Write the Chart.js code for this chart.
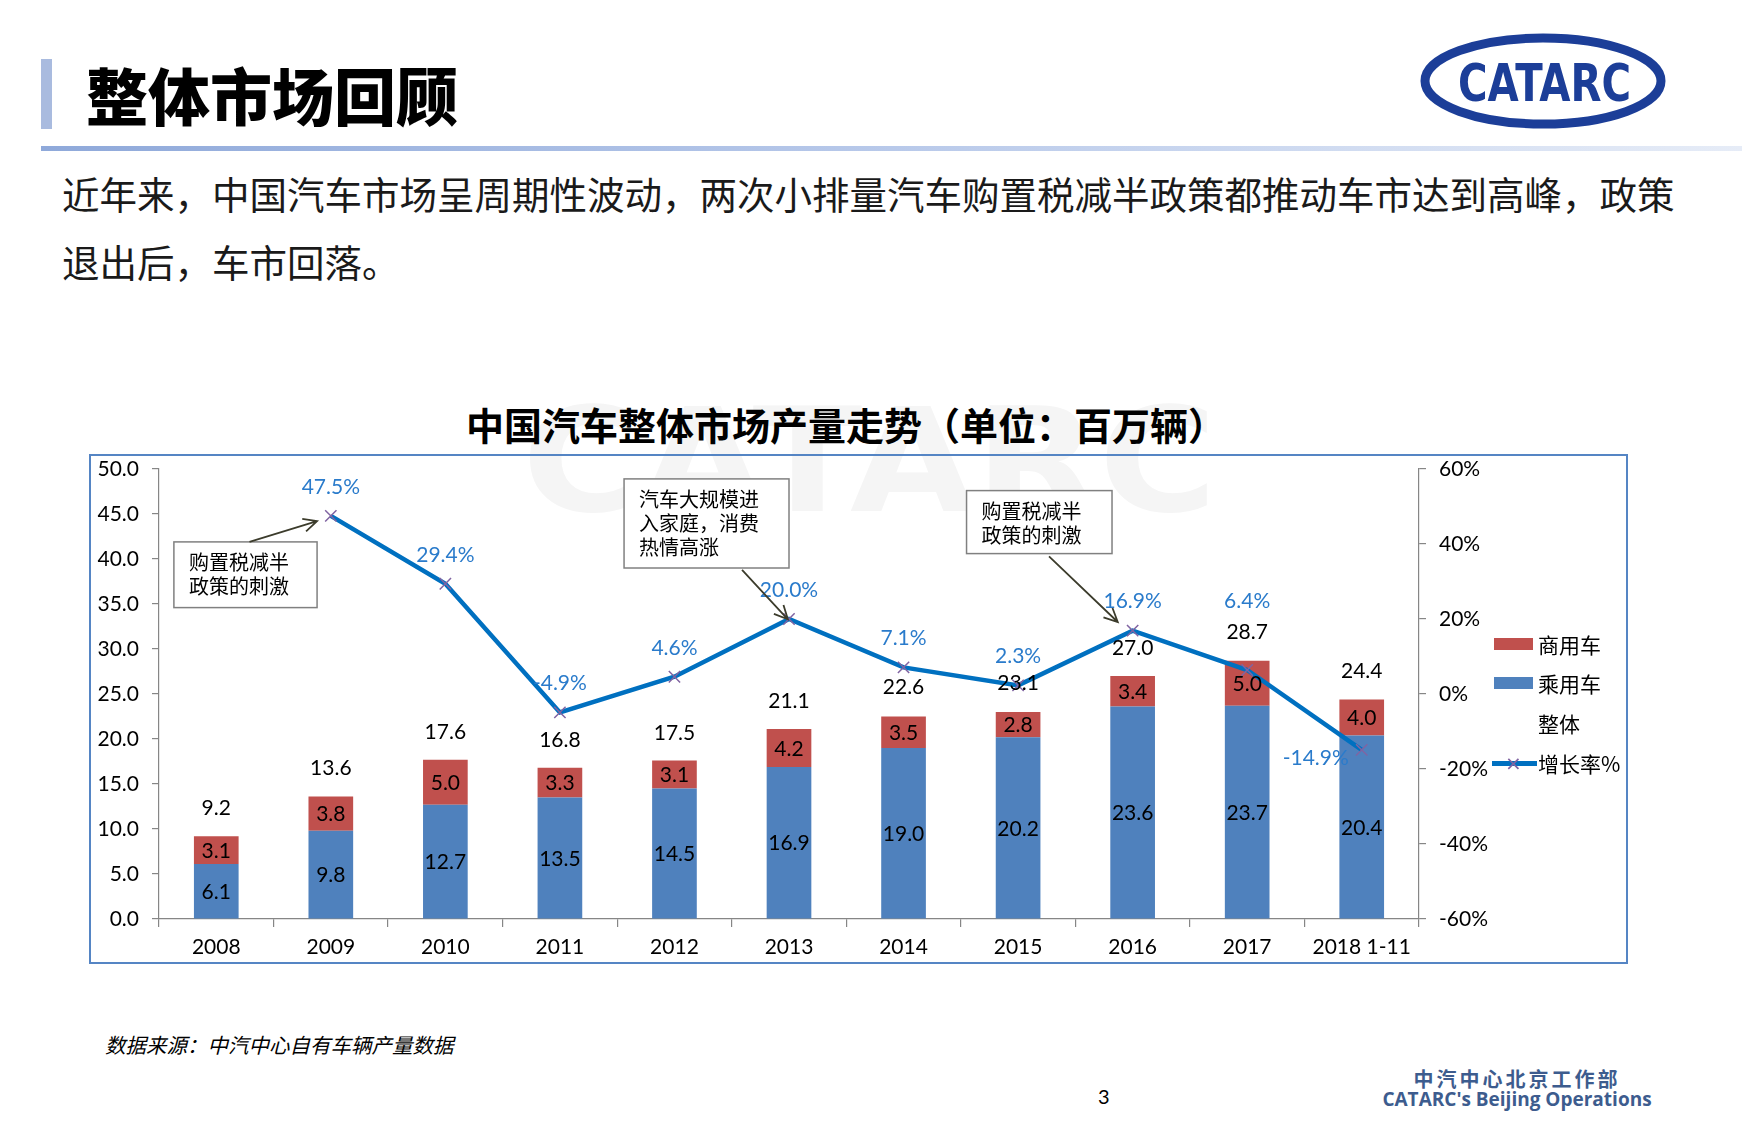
<!DOCTYPE html>
<html>
<head>
<meta charset="utf-8">
<script src="https://cdn.jsdelivr.net/npm/chart.js"></script>
<style>
  body { margin: 0; background: #fff; }
  .page { position: relative; width: 1742px; height: 1122px; overflow: hidden; font-family: "Noto Sans CJK SC", "Noto Sans", sans-serif; }
  .abs { position: absolute; white-space: nowrap; }
  .accent { left: 41px; top: 59px; width: 11px; height: 70px; background: #a9bbdf; }
  .title { left: 86px; top: 58px; font-size: 62px; line-height: 72px; font-weight: 900; color: #000; }
  .rule { left: 41px; top: 146px; width: 1701px; height: 5px; background: linear-gradient(to right, #8fa9da, #b8c9ea 50%, #e6ecf7); }
  .para { left: 62px; top: 159px; font-size: 37.5px; line-height: 68px; color: #1a1a1a; }
  .ctitle { left: 0; width: 1692px; top: 401px; text-align: center; font-size: 38px; line-height: 46px; font-weight: 700; color: #000; }
  .box { left: 89px; top: 454px; width: 1539px; height: 510px; border: 2px solid #5585c4; box-sizing: border-box; }
  .legend { font-size: 21px; line-height: 26px; color: #000; }
  .src { left: 105px; top: 1029px; font-size: 20.5px; font-style: italic; color: #000; }
  .pnum { left: 1098px; top: 1084px; font-size: 20px; font-family: Lato, sans-serif; color: #000; }
  .dept { left: 1370px; width: 294px; text-align: center; font-weight: 700; color: #3d5c8e; }
</style>
</head>
<body>
<div class="page">
  <svg class="abs" style="left:0;top:0" width="1742" height="1122">
    <text x="522" y="511" font-family="DejaVu Sans" font-weight="bold" font-size="145" fill="#f5f5f5" textLength="695" lengthAdjust="spacingAndGlyphs">CATARC</text>
    <ellipse cx="1543" cy="81" rx="118" ry="43" fill="none" stroke="#1c3e98" stroke-width="9"/>
    <text x="1458" y="101" font-family="DejaVu Sans Condensed" font-weight="bold" font-size="52" fill="#1c3e98" textLength="173" lengthAdjust="spacingAndGlyphs">CATARC</text>
  </svg>
  <div class="abs accent"></div>
  <div class="abs title">整体市场回顾</div>
  <div class="abs rule"></div>
  <div class="abs para">近年来，中国汽车市场呈周期性波动，两次小排量汽车购置税减半政策都推动车市达到高峰，政策<br>退出后，车市回落。</div>
  <div class="abs ctitle">中国汽车整体市场产量走势（单位：百万辆）</div>
  <div class="abs box"><canvas id="chart" width="1535" height="506"></canvas></div>
  <div class="abs legend" id="legend" style="left:0;top:0"></div>
  <div class="abs src">数据来源：中汽中心自有车辆产量数据</div>
  <div class="abs pnum">3</div>
  <div class="abs dept" style="top:1064px;font-size:20px;letter-spacing:3px;">中汽中心北京工作部</div>
  <div class="abs dept" style="top:1086px;font-size:19px;font-family:'Open Sans',sans-serif;">CATARC's Beijing Operations</div>
</div>
<script>
const years = ['2008', '2009', '2010', '2011', '2012', '2013', '2014', '2015', '2016', '2017', '2018 1-11'];
const passenger = [6.1, 9.8, 12.7, 13.5, 14.5, 16.9, 19.0, 20.2, 23.6, 23.7, 20.4];
const commercial = [3.1, 3.8, 5.0, 3.3, 3.1, 4.2, 3.5, 2.8, 3.4, 5.0, 4.0];
const total = [9.2, 13.6, 17.6, 16.8, 17.5, 21.1, 22.6, 23.1, 27.0, 28.7, 24.4];
const growth = [null, 47.5, 29.4, -4.9, 4.6, 20.0, 7.1, 2.3, 16.9, 6.4, -14.9];
const leftTicks = ['0.0', '5.0', '10.0', '15.0', '20.0', '25.0', '30.0', '35.0', '40.0', '45.0', '50.0'];
const rightTicks = ['-60%', '-40%', '-20%', '0%', '20%', '40%', '60%'];

const BLUE = '#4f81bd';
const RED = '#c0504d';
const LINE = '#0070c0';
const numFont = '21px Lato, "Noto Sans", sans-serif';

// callout boxes: box = [x0, yTop, x1, yBottom] in category index / left axis units
const notes = [
  { lines: ['购置税减半', '政策的刺激'], box: [-0.37, 41.9, 0.88, 34.6], tail: [0.29, 41.9], tip: [0.88, 44.2] },
  { lines: ['汽车大规模进', '入家庭，消费', '热情高涨'], box: [3.56, 48.9, 5.0, 39.0], tail: [4.59, 38.8], tip: [4.99, 33.3] },
  { lines: ['购置税减半', '政策的刺激'], box: [6.55, 47.6, 7.82, 40.6], tail: [7.27, 40.3], tip: [7.87, 33.0] }
];

const labelsPlugin = {
  id: 'labels',
  afterDatasetsDraw(chart) {
    const ctx = chart.ctx;
    ctx.save();
    ctx.font = numFont;
    ctx.textAlign = 'center';
    ctx.textBaseline = 'middle';
    ctx.fillStyle = '#000';
    [1, 2].forEach(di => {
      chart.getDatasetMeta(di).data.forEach((el, i) => {
        const v = chart.data.datasets[di].data[i];
        ctx.fillText(v.toFixed(1), el.x, (el.y + el.base) / 2 + 1);
      });
    });
    chart.getDatasetMeta(3).data.forEach((el, i) => {
      ctx.fillText(total[i].toFixed(1), el.x, el.y - 28);
    });
    ctx.fillStyle = '#2a7bcb';
    chart.getDatasetMeta(0).data.forEach((el, i) => {
      if (growth[i] === null) return;
      let dx = 0, dy = -29;
      if (i === 9) dy = -69;
      if (i === 10) { dx = -46; dy = 8; }
      ctx.fillText(growth[i].toFixed(1) + '%', el.x + dx, el.y + dy);
    });

    const xs = chart.scales.x, ys = chart.scales.y;
    const px = v => xs.getPixelForValue(0) + v * (xs.getPixelForValue(1) - xs.getPixelForValue(0));
    const py = v => ys.getPixelForValue(v);
    notes.forEach(n => {
      const x0 = px(n.box[0]), y0 = py(n.box[1]), x1 = px(n.box[2]), y1 = py(n.box[3]);
      ctx.fillStyle = '#fff';
      ctx.fillRect(x0, y0, x1 - x0, y1 - y0);
      ctx.strokeStyle = '#808080';
      ctx.lineWidth = 1.5;
      ctx.strokeRect(x0, y0, x1 - x0, y1 - y0);
      ctx.fillStyle = '#000';
      ctx.font = '20px "Noto Sans CJK SC", sans-serif';
      ctx.textAlign = 'left';
      n.lines.forEach((t, k) => ctx.fillText(t, x0 + 15, y0 + 21 + k * 24));
      // arrow
      const tx = px(n.tail[0]), ty = py(n.tail[1]), hx = px(n.tip[0]), hy = py(n.tip[1]);
      const a = Math.atan2(hy - ty, hx - tx);
      ctx.strokeStyle = '#3c3c2c';
      ctx.lineWidth = 1.8;
      ctx.beginPath();
      ctx.moveTo(tx, ty);
      ctx.lineTo(hx, hy);
      ctx.moveTo(hx - 15 * Math.cos(a - 0.45), hy - 15 * Math.sin(a - 0.45));
      ctx.lineTo(hx, hy);
      ctx.lineTo(hx - 15 * Math.cos(a + 0.45), hy - 15 * Math.sin(a + 0.45));
      ctx.stroke();
    });
    ctx.restore();
  }
};

const axisGrid = { drawOnChartArea: false, tickLength: 7, color: '#868686', lineWidth: 1.2 };

new Chart(document.getElementById('chart'), {
  type: 'bar',
  data: {
    labels: years,
    datasets: [
      {
        type: 'line', label: '增长率%', data: growth, yAxisID: 'y1', order: 0,
        borderColor: LINE, borderWidth: 4.5, tension: 0,
        pointStyle: 'crossRot', pointRadius: 8, pointBorderColor: '#8064a2', pointBorderWidth: 1.5
      },
      { label: '乘用车', data: passenger, backgroundColor: BLUE, stack: 'cars', order: 2, barPercentage: 0.39, categoryPercentage: 1 },
      { label: '商用车', data: commercial, backgroundColor: RED, stack: 'cars', order: 2, barPercentage: 0.39, categoryPercentage: 1 },
      { type: 'line', label: '整体', data: total, stack: 'total', showLine: false, pointRadius: 0, order: 1 }
    ]
  },
  plugins: [labelsPlugin],
  options: {
    responsive: false,
    animation: false,
    layout: { autoPadding: false, padding: { left: 0, right: 127, top: 13, bottom: 0 } },
    plugins: { legend: { display: false }, tooltip: { enabled: false } },
    scales: {
      x: {
        stacked: true,
        grid: { ...axisGrid, offset: true, tickLength: 8 },
        border: { color: '#868686', width: 1.2 },
        ticks: { color: '#000', font: { family: 'Lato', size: 21 }, padding: 8, maxRotation: 0, autoSkip: false },
        afterFit(s) { s.height = 43; s.paddingLeft = 0; s.paddingRight = 0; }
      },
      y: {
        stacked: true, min: 0, max: 50,
        grid: axisGrid,
        border: { color: '#868686', width: 1.2 },
        ticks: { stepSize: 5, color: '#000', font: { family: 'Lato', size: 21 }, padding: 13, callback: (v, i) => leftTicks[i] },
        afterFit(s) { s.width = 68; s.paddingTop = 0; s.paddingBottom = 0; }
      },
      y1: {
        position: 'right', min: -60, max: 60,
        grid: axisGrid,
        border: { color: '#868686', width: 1.2 },
        ticks: { stepSize: 20, color: '#000', font: { family: 'Lato', size: 21 }, padding: 13, callback: (v, i) => rightTicks[i] },
        afterFit(s) { s.width = 80; s.paddingTop = 0; s.paddingBottom = 0; }
      }
    }
  }
});

// legend, built from the dataset names
const legend = document.getElementById('legend');
const items = [
  { name: '商用车', color: RED, y: 644 },
  { name: '乘用车', color: BLUE, y: 683 },
  { name: '整体', color: null, y: 723 },
  { name: '增长率%', line: true, y: 763 }
];
items.forEach(it => {
  if (it.color) {
    const sw = document.createElement('div');
    sw.className = 'abs';
    sw.style.cssText = `left:1494px;top:${it.y - 6}px;width:39px;height:12px;background:${it.color}`;
    legend.appendChild(sw);
  }
  if (it.line) {
    const ln = document.createElement('div');
    ln.className = 'abs';
    ln.style.cssText = `left:1492px;top:${it.y - 2}px;width:45px;height:4.5px;background:${LINE}`;
    legend.appendChild(ln);
    const mk = document.createElement('div');
    mk.className = 'abs';
    mk.style.cssText = `left:1505px;top:${it.y - 13}px;font:20px "DejaVu Sans";color:#8064a2;line-height:26px`;
    mk.textContent = '×';
    legend.appendChild(mk);
  }
  const tx = document.createElement('div');
  tx.className = 'abs';
  tx.style.cssText = `left:1538px;top:${it.y - 14}px;line-height:28px`;
  tx.textContent = it.name;
  legend.appendChild(tx);
});
</script>
</body>
</html>
